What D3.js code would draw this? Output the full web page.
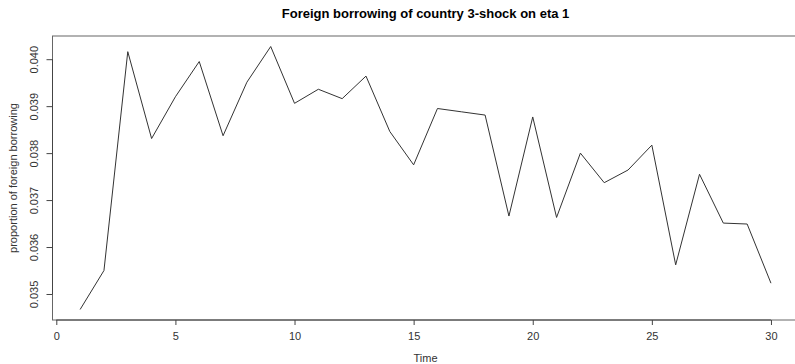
<!DOCTYPE html>
<html>
<head>
<meta charset="utf-8">
<script src="https://cdn.jsdelivr.net/npm/d3@7"></script>
<style>
  html, body { margin: 0; padding: 0; background: #fff; }
  svg { display: block; font-family: "Liberation Sans", Arial, sans-serif; }
</style>
</head>
<body>
<svg id="chart" width="795" height="364"></svg>
<script>
// Time steps and the response of foreign borrowing
const time = d3.range(1, 31);
const borrowing = [
  0.03467, 0.03550, 0.04016, 0.03831, 0.03920, 0.03995, 0.03837, 0.03951, 0.04027, 0.03906,
  0.03936, 0.03916, 0.03964, 0.03846, 0.03775, 0.03895, 0.03888, 0.03881, 0.03666, 0.03877,
  0.03663, 0.03800, 0.03737, 0.03764, 0.03817, 0.03562, 0.03755, 0.03651, 0.03649, 0.03523
];
const xTicks = [0, 5, 10, 15, 20, 25, 30];
const yTicks = [0.035, 0.036, 0.037, 0.038, 0.039, 0.040];

const titleText = "Foreign borrowing of country 3-shock on eta 1";
const xLabel = "Time";
const yLabel = "proportion of foreign borrowing";

const svg = d3.select("#chart");
const plot = { left: 52.5, right: 798.6, top: 36, bottom: 320 };

// R-style 4% padding around the data range
function padded(ext) {
  const pad = (ext[1] - ext[0]) * 0.04;
  return [ext[0] - pad, ext[1] + pad];
}

const x = d3.scaleLinear().domain(padded(d3.extent(time))).range([plot.left, plot.right]);
const y = d3.scaleLinear().domain(padded(d3.extent(borrowing))).range([plot.bottom, plot.top]);

const axisColor = "#444";
const textColor = "#333";

// Plot frame
svg.append("rect")
  .attr("x", plot.left).attr("y", plot.top)
  .attr("width", plot.right - plot.left).attr("height", plot.bottom - plot.top)
  .attr("fill", "none").attr("stroke", "#666").attr("stroke-width", 1);

// Bottom axis
const xAxis = svg.append("g")
  .attr("transform", `translate(0,${plot.bottom})`)
  .call(d3.axisBottom(x).tickValues(xTicks).tickSize(5).tickPadding(7).tickFormat(d3.format("d")));
xAxis.select(".domain").attr("d", `M${x(xTicks[0])},0H${x(xTicks[xTicks.length - 1])}`).attr("stroke", axisColor);
xAxis.selectAll(".tick line").attr("stroke", axisColor);
xAxis.selectAll(".tick text").attr("font-size", 11).attr("fill", textColor)
  .attr("font-family", "Liberation Sans, Arial, sans-serif");

// Left axis with rotated labels
const yAxis = svg.append("g")
  .attr("transform", `translate(${plot.left},0)`)
  .call(d3.axisLeft(y).tickValues(yTicks).tickSize(6).tickFormat(d3.format(".3f")));
yAxis.select(".domain").attr("d", `M0,${y(yTicks[0])}V${y(yTicks[yTicks.length - 1])}`).attr("stroke", axisColor);
yAxis.selectAll(".tick line").attr("stroke", axisColor);
yAxis.selectAll(".tick text")
  .attr("font-size", 11).attr("fill", textColor)
  .attr("font-family", "Liberation Sans, Arial, sans-serif")
  .attr("x", null)
  .attr("text-anchor", "middle")
  .attr("transform", "translate(-13,0) rotate(-90)")
  .attr("dy", "-0.1em");

// Series line
const line = d3.line()
  .x((d, i) => x(time[i]))
  .y(d => y(d));
svg.append("path")
  .datum(borrowing)
  .attr("d", line)
  .attr("fill", "none")
  .attr("stroke", "#333")
  .attr("stroke-width", 1);

// Title and axis titles
const cx = (plot.left + plot.right) / 2;
svg.append("text")
  .attr("x", cx).attr("y", 18)
  .attr("text-anchor", "middle")
  .attr("font-size", 13).attr("font-weight", "bold").attr("fill", "#000")
  .text(titleText);

svg.append("text")
  .attr("x", cx).attr("y", 362)
  .attr("text-anchor", "middle")
  .attr("font-size", 11).attr("fill", textColor)
  .text(xLabel);

svg.append("text")
  .attr("transform", `translate(17,${(plot.top + plot.bottom) / 2}) rotate(-90)`)
  .attr("text-anchor", "middle")
  .attr("font-size", 11).attr("fill", textColor)
  .text(yLabel);
</script>
</body>
</html>
